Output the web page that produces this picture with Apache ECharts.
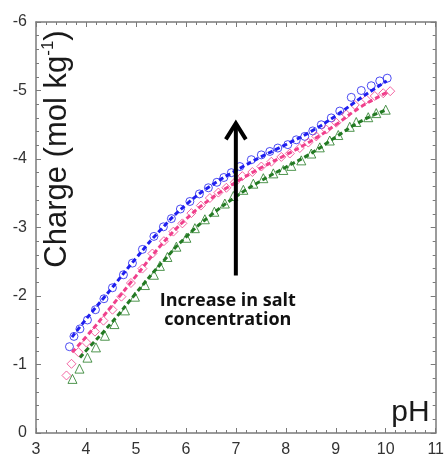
<!DOCTYPE html>
<html>
<head>
<meta charset="utf-8">
<script src="https://cdn.jsdelivr.net/npm/echarts@6/dist/echarts.min.js"></script>
<style>
html,body{margin:0;padding:0;background:#fff;}
#chart{width:447px;height:461px;}
</style>
</head>
<body>
<div id="chart"></div>
<script>
// ---- Data ----
const xTicks = [3, 4, 5, 6, 7, 8, 9, 10, 11];
const yTicks = [-6, -5, -4, -3, -2, -1, 0];

// Low salt (blue circles)
const phBlue = [3.67,3.76,3.88,4.03,4.19,4.36,4.53,4.75,4.93,5.13,5.36,5.55,5.71,5.89,6.08,6.27,6.45,6.62,6.76,6.91,7.08,7.31,7.51,7.68,7.84,8.04,8.21,8.38,8.54,8.71,8.91,9.08,9.31,9.51,9.71,9.88,10.03];
const chargeBlue = [-1.26,-1.41,-1.52,-1.65,-1.80,-1.96,-2.12,-2.31,-2.48,-2.68,-2.87,-3.01,-3.13,-3.27,-3.38,-3.49,-3.58,-3.66,-3.73,-3.80,-3.89,-3.99,-4.06,-4.11,-4.16,-4.21,-4.28,-4.33,-4.41,-4.50,-4.60,-4.70,-4.90,-5.00,-5.07,-5.14,-5.18];

// Medium salt (pink diamonds)
const phPink = [3.61,3.71,3.85,4.01,4.18,4.35,4.53,4.71,4.90,5.13,5.33,5.56,5.75,5.93,6.11,6.30,6.48,6.65,6.81,6.98,7.13,7.33,7.51,7.71,7.91,8.08,8.28,8.45,8.61,8.81,9.01,9.21,9.38,9.61,9.78,9.95,10.09];
const chargePink = [-0.84,-1.01,-1.18,-1.32,-1.48,-1.64,-1.80,-1.99,-2.19,-2.40,-2.62,-2.80,-2.94,-3.06,-3.21,-3.32,-3.43,-3.51,-3.58,-3.66,-3.75,-3.81,-3.89,-3.96,-4.03,-4.08,-4.16,-4.24,-4.33,-4.43,-4.53,-4.65,-4.79,-4.87,-4.92,-4.96,-4.99];

// High salt (green triangles)
const phGreen = [3.73,3.87,4.03,4.20,4.38,4.57,4.78,4.98,5.18,5.36,5.48,5.63,5.81,6.01,6.18,6.38,6.57,6.78,6.95,7.15,7.35,7.55,7.75,7.95,8.11,8.31,8.51,8.68,8.88,9.05,9.28,9.41,9.65,9.81,10.00];
const chargeGreen = [-0.79,-0.94,-1.10,-1.25,-1.42,-1.59,-1.79,-1.99,-2.16,-2.31,-2.44,-2.57,-2.72,-2.85,-2.99,-3.12,-3.23,-3.35,-3.46,-3.55,-3.64,-3.72,-3.79,-3.84,-3.90,-3.98,-4.08,-4.17,-4.27,-4.35,-4.47,-4.54,-4.61,-4.67,-4.72];

// Model curves (dashed)
const modelPhBlue = [3.72,4.0,4.5,5.0,5.5,6.0,6.5,7.0,7.5,8.0,8.5,9.0,9.5,10.02];
const modelBlue = [-1.40,-1.66,-2.10,-2.55,-2.97,-3.33,-3.61,-3.83,-4.03,-4.21,-4.40,-4.63,-4.89,-5.14];
const modelPhPink = [3.72,4.0,4.5,5.0,5.5,6.0,6.5,7.0,7.5,8.0,8.5,9.0,9.5,10.05];
const modelPink = [-1.18,-1.40,-1.84,-2.29,-2.74,-3.12,-3.42,-3.66,-3.87,-4.06,-4.26,-4.50,-4.76,-4.98];
const modelPhGreen = [3.88,4.0,4.5,5.0,5.5,6.0,6.5,7.0,7.5,8.0,8.5,9.0,9.5,10.02];
const modelGreen = [-1.10,-1.20,-1.60,-2.04,-2.47,-2.86,-3.18,-3.45,-3.68,-3.88,-4.08,-4.32,-4.55,-4.72];

// Annotation
const arrowPh = 7;
const arrowFrom = -2.3;
const arrowTo = -4.52;
const noteLines = ['Increase in salt', 'concentration'];
const yTitle = 'Charge (mol kg';
const yTitleSup = '-1';
const xTitle = 'pH';

// ---- Chart ----
const zip = (a, b) => a.map((v, i) => [v, b[i]]);
const AX = '#7a7a7a';
const BLUE = '#1f1fef', PINK = '#f0408c', GREEN = '#237a23';

function axisCommon(showLabel) {
  return {
    axisLine: { show: true, onZero: false, lineStyle: { color: AX, width: 1.5 } },
    axisTick: { show: true, inside: true, length: 5, lineStyle: { color: AX, width: 1 } },
    minorTick: { show: true, splitNumber: 5, length: 3, lineStyle: { color: AX, width: 1 } },
    splitLine: { show: false },
    axisLabel: { show: showLabel, fontSize: 16, color: '#333', margin: 9, fontFamily: 'Liberation Sans, Arial, sans-serif' }
  };
}

const chart = echarts.init(document.getElementById('chart'), null, { renderer: 'canvas' });

const xBase = { type: 'value', min: xTicks[0], max: xTicks[xTicks.length - 1], interval: 1 };
const yBase = { type: 'value', min: yTicks[0], max: yTicks[yTicks.length - 1], interval: 1, inverse: true };

function scatter(name, ph, ch, symbol, color, size) {
  return {
    name, type: 'scatter', data: zip(ph, ch), symbol, symbolSize: size,
    itemStyle: { color: 'rgba(255,255,255,0)', borderColor: color, borderWidth: 1 },
    z: 3
  };
}
function model(name, ph, ch, color) {
  return {
    name, type: 'line', data: zip(ph, ch), smooth: true, showSymbol: false, symbol: 'none',
    lineStyle: { color, width: 3, type: [5, 3] }, z: 4
  };
}

chart.setOption({
  animation: false,
  backgroundColor: '#fff',
  grid: { left: 36, right: 11, top: 22, bottom: 28 },
  xAxis: [
    Object.assign({}, xBase, axisCommon(true), { position: 'bottom' }),
    Object.assign({}, xBase, axisCommon(false), { position: 'top' })
  ],
  yAxis: [
    Object.assign({}, yBase, axisCommon(true), { position: 'left' }),
    Object.assign({}, yBase, axisCommon(false), { position: 'right' })
  ],
  series: [
    model('Model low salt', modelPhBlue, modelBlue, BLUE),
    model('Model medium salt', modelPhPink, modelPink, PINK),
    model('Model high salt', modelPhGreen, modelGreen, GREEN),
    scatter('Low salt', phBlue, chargeBlue, 'circle', BLUE, 8),
    scatter('Medium salt', phPink, chargePink, 'diamond', PINK, 9),
    scatter('High salt', phGreen, chargeGreen, 'triangle', GREEN, 9)
  ]
});

const pBottom = chart.convertToPixel({ xAxisIndex: 0, yAxisIndex: 0 }, [arrowPh, arrowFrom]);
const pTop = chart.convertToPixel({ xAxisIndex: 0, yAxisIndex: 0 }, [arrowPh, arrowTo]);
const grid = chart.getModel().getComponent('grid').coordinateSystem.getRect();

chart.setOption({
  graphic: [
    {
      type: 'line', shape: { x1: pBottom[0], y1: pBottom[1], x2: pTop[0], y2: pTop[1] + 2 },
      style: { stroke: '#000', lineWidth: 4 }, z: 10
    },
    {
      type: 'polyline', shape: { points: [[pTop[0] - 10, pTop[1] + 16], [pTop[0], pTop[1]], [pTop[0] + 10, pTop[1] + 16]] },
      style: { stroke: '#000', lineWidth: 4, fill: null, lineJoin: 'miter' }, z: 10
    },
    {
      type: 'text', x: pTop[0] - 8, y: pBottom[1] + 35, z: 10,
      style: {
        text: noteLines.join('\n'), align: 'center', verticalAlign: 'middle',
        font: 'bold 18px "Open Sans", sans-serif', fill: '#111', lineHeight: 19
      }
    },
    {
      type: 'text', x: 57, y: 149, rotation: Math.PI / 2, z: 10,
      style: {
        text: '{a|' + yTitle + '}{s|' + yTitleSup + '}{a|)}',
        align: 'center', verticalAlign: 'middle',
        rich: {
          a: { fontSize: 31, fontFamily: 'Liberation Sans, Arial, sans-serif', fill: '#1a1a1a', lineHeight: 34 },
          s: { fontSize: 17, fontFamily: 'Liberation Sans, Arial, sans-serif', fill: '#1a1a1a', verticalAlign: 'top', lineHeight: 34, padding: [0, 0, 14, 0] }
        }
      }
    },
    {
      type: 'text', x: grid.x + grid.width - 6, y: 413, z: 10,
      style: {
        text: xTitle, align: 'right', verticalAlign: 'middle',
        font: '30px "Liberation Sans", Arial, sans-serif', fill: '#1a1a1a'
      }
    }
  ]
});
</script>
</body>
</html>
